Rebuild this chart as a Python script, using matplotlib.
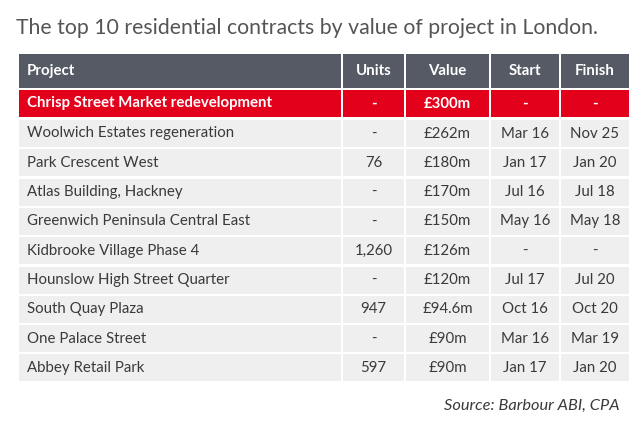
import matplotlib.pyplot as plt
from matplotlib.patches import Rectangle

plt.rcParams['font.family'] = ['Lato', 'DejaVu Sans']

title = "The top 10 residential contracts by value of project in London."
source = "Source: Barbour ABI, CPA"

columns = ["Project", "Units", "Value", "Start", "Finish"]
projects = ["Chrisp Street Market redevelopment", "Woolwich Estates regeneration",
            "Park Crescent West", "Atlas Building, Hackney",
            "Greenwich Peninsula Central East", "Kidbrooke Village Phase 4",
            "Hounslow High Street Quarter", "South Quay Plaza",
            "One Palace Street", "Abbey Retail Park"]
units = ["-", "-", "76", "-", "-", "1,260", "-", "947", "-", "597"]
values = ["£300m", "£262m", "£180m", "£170m", "£150m", "£126m", "£120m",
          "£94.6m", "£90m", "£90m"]
starts = ["-", "Mar 16", "Jan 17", "Jul 16", "May 16", "-", "Jul 17",
          "Oct 16", "Mar 16", "Jan 17"]
finishes = ["-", "Nov 25", "Jan 20", "Jul 18", "May 18", "-", "Jul 20",
            "Oct 20", "Mar 19", "Jan 20"]

# pixel layout
col_edges = [(19, 341), (343, 404), (406, 489), (491, 559), (561, 629)]
header_top, header_bot = 54, 88
first_top, first_bot = 90, 117
row_top0, row_pitch, row_h = 120, 29.3, 27

HEADER = "#555a64"
RED = "#e3001b"
ROW = "#efefef"
TEXT = "#3a3a3a"

fig = plt.figure(figsize=(6.37, 4.32), dpi=100)
ax = fig.add_axes([0, 0, 1, 1])
ax.set_xlim(0, 637)
ax.set_ylim(432, 0)
ax.axis("off")

ax.text(16, 28, title, fontsize=15.3, color="#555555", fontweight="normal",
        va="center", ha="left")

rows = list(zip(projects, units, values, starts, finishes))


def draw_row(cells, top, bot, face, color, weight):
    mid = (top + bot) / 2
    for j, ((x0, x1), txt) in enumerate(zip(col_edges, cells)):
        ax.add_patch(Rectangle((x0, top), x1 - x0, bot - top, facecolor=face,
                               edgecolor="none"))
        if j == 0:
            ax.text(x0 + 8, mid, txt, fontsize=10.8, color=color,
                    fontweight=weight, va="center", ha="left")
        else:
            ax.text((x0 + x1) / 2, mid, txt, fontsize=10.8, color=color,
                    fontweight=weight, va="center", ha="center")


draw_row(columns, header_top, header_bot, HEADER, "white", "bold")
draw_row(rows[0], first_top, first_bot, RED, "white", "bold")
for i, r in enumerate(rows[1:]):
    top = row_top0 + i * row_pitch
    draw_row(r, top, top + row_h, ROW, TEXT, "normal")

ax.text(620, 406, source, fontsize=11.8, color="#3a3a3a", style="italic",
        va="center", ha="right")

fig.savefig("out.png", dpi=100)
